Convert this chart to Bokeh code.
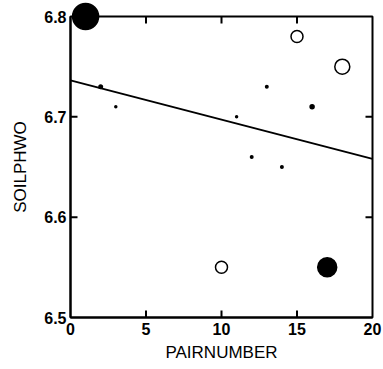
import numpy as np
from bokeh.plotting import figure
from bokeh.models import FixedTicker, ColumnDataSource, Range1d
from bokeh.embed import file_html
from bokeh.resources import INLINE

# data
pair_number = [1, 2, 3, 10, 11, 12, 13, 14, 15, 16, 17, 18]
soil_ph = [6.80, 6.73, 6.71, 6.55, 6.70, 6.66, 6.73, 6.65, 6.78, 6.71, 6.55, 6.75]
bubble = [26, 3.5, 2, 12, 2, 2.5, 2.5, 2.5, 12, 4, 19, 15]  # relative bubble diameters
filled = [True, True, True, False, True, True, True, True, False, True, True, False]

x_ticks = [0, 5, 10, 15, 20]
y_ticks = [6.5, 6.6, 6.7, 6.8]
x_min, x_max = 0, 20
y_min, y_max = 6.5, 6.8

slope, intercept = np.polyfit(pair_number, soil_ph, 1)
fit_x = [x_min, x_max]
fit_y = [intercept + slope * v for v in fit_x]

W, H = 383, 369
BL, BR, BT, BB = 70, 11, 16, 52
p = figure(width=W, height=H, output_backend="svg", toolbar_location=None,
           x_range=Range1d(x_min, x_max), y_range=Range1d(y_min, y_max),
           min_border_left=BL, min_border_right=BR, min_border_top=BT, min_border_bottom=BB)
p.xgrid.visible = False
p.ygrid.visible = False
p.outline_line_color = "black"
p.outline_line_width = 2
p.background_fill_color = "white"

def style(ax, ticks):
    ax.ticker = FixedTicker(ticks=ticks)
    ax.axis_line_width = 2
    ax.axis_line_color = "black"
    ax.major_tick_in = 0
    ax.major_tick_out = 0
    ax.major_tick_line_width = 2
    ax.minor_tick_line_color = None
    ax.major_label_text_font = "Liberation Sans"
    ax.major_label_text_font_style = "bold"
    ax.major_label_text_font_size = "16px"
    ax.major_label_text_color = "black"
    ax.axis_label_text_font = "Liberation Sans"
    ax.axis_label_text_font_style = "normal"
    ax.axis_label_text_font_size = "17px"
    ax.axis_label_text_color = "black"

style(p.xaxis[0], x_ticks)
style(p.yaxis[0], y_ticks)
p.xaxis[0].axis_label = "PAIRNUMBER"
p.yaxis[0].axis_label = "SOILPHWO"
p.xaxis[0].major_label_standoff = 5
p.xaxis[0].axis_label_standoff = 5
p.yaxis[0].major_label_standoff = 4
p.yaxis[0].axis_label_standoff = 11

# inward ticks on all four frame edges
tick_px = 7
dx = tick_px * (x_max - x_min) / (W - BL - BR)
dy = tick_px * (y_max - y_min) / (H - BT - BB)
inner_x = [t for t in x_ticks if x_min < t < x_max]
inner_y = [t for t in y_ticks if y_min < t < y_max]
tick_src = ColumnDataSource(dict(
    x0=inner_x + inner_x + [x_min] * len(inner_y) + [x_max] * len(inner_y),
    y0=[y_min] * len(inner_x) + [y_max] * len(inner_x) + inner_y + inner_y,
    x1=inner_x + inner_x + [x_min + dx] * len(inner_y) + [x_max - dx] * len(inner_y),
    y1=[y_min + dy] * len(inner_x) + [y_max - dy] * len(inner_x) + inner_y + inner_y,
))
p.segment("x0", "y0", "x1", "y1", source=tick_src, line_color="black", line_width=2)

p.line(fit_x, fit_y, line_color="black", line_width=2)

src = ColumnDataSource(dict(
    x=pair_number, y=soil_ph, s=bubble,
    fc=["black" if f else "white" for f in filled],
))
r = p.scatter("x", "y", size="s", source=src, fill_color="fc",
              line_color="black", line_width=1.5)
r.level = "overlay"

open("out.html", "w").write(file_html(p, INLINE))
